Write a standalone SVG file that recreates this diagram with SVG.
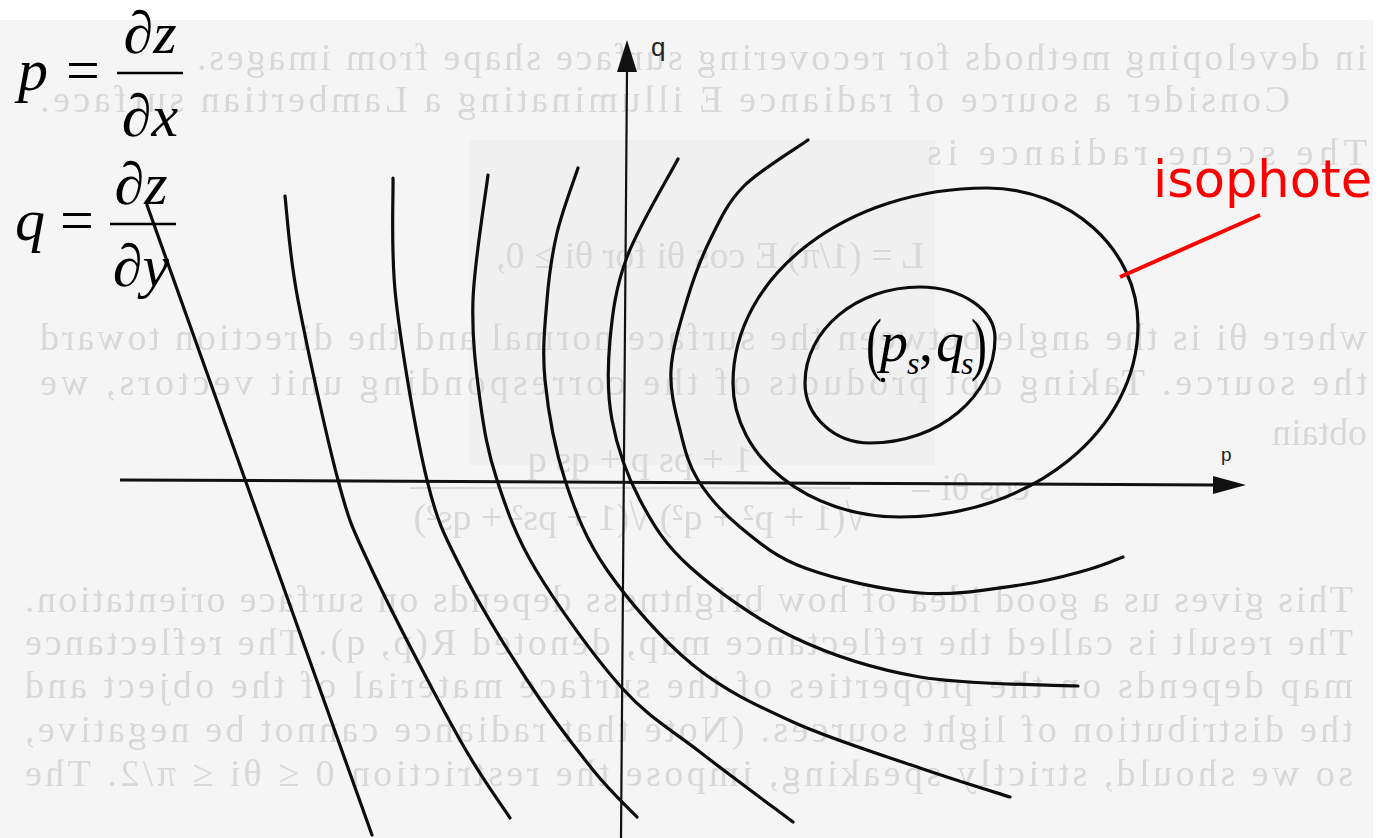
<svg xmlns="http://www.w3.org/2000/svg" width="1385" height="838" viewBox="0 0 1385 838">
<style>
.curve{fill:none;stroke:#0d0d0d;stroke-width:3.2;stroke-linecap:round;stroke-linejoin:round}
.axis{fill:none;stroke:#111}
.math{font-family:"Liberation Serif","Times New Roman",serif;fill:#000}
.it{font-style:italic}
.axlbl{font-family:"Liberation Sans",Arial,sans-serif;fill:#222}
.bleed{font-family:"Liberation Serif","Times New Roman",serif;font-size:38px;fill:#d8d8d8}
</style>
<defs>
<filter id="soft" x="-2%" y="-10%" width="104%" height="120%">
<feGaussianBlur stdDeviation="0.7"/>
</filter>
</defs>
<g id="background">
<rect x="0" y="0" width="1385" height="838" fill="#ffffff"/>
<rect x="0" y="20" width="1373" height="818" fill="#f5f5f5"/>
<rect x="470" y="140" width="465" height="325" fill="#ececec" opacity="0.6"/>
</g>
<g id="bleed-through" transform="matrix(-1 0 0 1 1410 0)" filter="url(#soft)">
<text class="bleed" x="43" y="70" textLength="1170" lengthAdjust="spacing">in developing methods for recovering surface shape from images.</text>
<text class="bleed" x="120" y="112" textLength="1250" lengthAdjust="spacing">Consider a source of radiance E illuminating a Lambertian surface.</text>
<text class="bleed" x="43" y="165" textLength="440" lengthAdjust="spacing">The scene radiance is</text>
<text class="bleed" x="700" y="268" text-anchor="middle">L = (1/π) E cos θi    for θi ≥ 0,</text>
<text class="bleed" x="43" y="350" textLength="1327" lengthAdjust="spacing">where θi is the angle between the surface normal and the direction toward</text>
<text class="bleed" x="43" y="395" textLength="1327" lengthAdjust="spacing">the source. Taking dot products of the corresponding unit vectors, we</text>
<text class="bleed" x="43" y="445">obtain</text>
<text class="bleed" x="770" y="472" text-anchor="middle">1 + ps p + qs q</text>
<text class="bleed" x="440" y="500" text-anchor="middle">cos θi =</text>
<line x1="560" y1="488" x2="1000" y2="488" stroke="#d8d8d8" stroke-width="2"/>
<text class="bleed" x="770" y="530" text-anchor="middle">√(1 + p² + q²) √(1 + ps² + qs²)</text>
<text class="bleed" x="57" y="612" textLength="1328" lengthAdjust="spacing">This gives us a good idea of how brightness depends on surface orientation.</text>
<text class="bleed" x="57" y="655" textLength="1328" lengthAdjust="spacing">The result is called the reflectance map, denoted R(p, q). The reflectance</text>
<text class="bleed" x="57" y="698" textLength="1328" lengthAdjust="spacing">map depends on the properties of the surface material of the object and</text>
<text class="bleed" x="57" y="742" textLength="1328" lengthAdjust="spacing">the distribution of light sources. (Note that radiance cannot be negative,</text>
<text class="bleed" x="57" y="786" textLength="1328" lengthAdjust="spacing">so we should, strictly speaking, impose the restriction 0 ≤ θi ≤ π/2. The</text>
</g>
<g id="axes">
<line class="axis" x1="627" y1="70" x2="621" y2="838" stroke-width="2.2"/>
<polygon points="627,40 617,72 637,72" fill="#111"/>
<line class="axis" x1="120" y1="480" x2="1216" y2="485" stroke-width="3"/>
<polygon points="1246,485 1213,476 1213,494" fill="#111"/>
<text class="axlbl" x="651" y="56" font-size="26">q</text>
<text class="axlbl" x="1221" y="461" font-size="19">p</text>
</g>
<g id="isophotes">
<path class="curve" d="M147,205 L372,835"/>
<path class="curve" d="M285,196 C287,213 289,253 298,300 C307,347 326,435 338,480 C350,525 352,527 372,570 C392,613 437,699 460,740 C483,781 502,805 510,818"/>
<path class="curve" d="M393,178 C393.5,198 390.3,250 396,300 C401.7,350 416,435 427,480 C438,525 445.3,536.7 462,570 C478.7,603.3 505.2,646.7 527,680 C548.8,713.3 574.7,747.2 593,770 C611.3,792.8 629.7,809.2 637,817"/>
<path class="curve" d="M488,175 C485.5,195.8 474.3,262.5 473,300 C471.7,337.5 476,370 480,400 C484,430 487.7,451.7 497,480 C506.3,508.3 515.2,535.3 536,570 C556.8,604.7 594.7,657.7 622,688 C649.3,718.3 671.5,729.7 700,752 C728.5,774.3 777.5,810.3 793,822"/>
<path class="curve" d="M578,168 C574.5,178.8 562.2,211 557,233 C551.8,255 549,275.5 547,300 C545,324.5 542,350 545,380 C548,410 554.7,448.3 565,480 C575.3,511.7 585.7,539.2 607,570 C628.3,600.8 662,639.7 693,665 C724,690.3 755.2,704.8 793,722 C830.8,739.2 883.8,755.5 920,768 C956.2,780.5 995,792.2 1010,797"/>
<path class="curve" d="M678,159 C669.5,175.3 638.3,226.8 627,257 C615.7,287.2 612.5,312.8 610,340 C607.5,367.2 607,393.3 612,420 C617,446.7 627,475.5 640,500 C653,524.5 664.5,544.2 690,567 C715.5,589.8 754.7,618.7 793,637 C831.3,655.3 872.5,668.8 920,677 C967.5,685.2 1051.7,684.5 1078,686"/>
<path class="curve" d="M808,140 C797.2,147.8 759.3,170.3 743,187 C726.7,203.7 719.3,221.2 710,240 C700.7,258.8 693.5,278.3 687,300 C680.5,321.7 672.2,348.3 671,370 C669.8,391.7 675.5,411.7 680,430 C684.5,448.3 688,463.8 698,480 C708,496.2 722.2,512.3 740,527 C757.8,541.7 775,557 805,568 C835,579 884.2,590.2 920,593 C955.8,595.8 992.2,588.8 1020,585 C1047.8,581.2 1069.8,574.7 1087,570 C1104.2,565.3 1117,559.2 1123,557"/>
<path class="curve" d="M733,383 C733,275 847,188 987,188 C1070,188 1138,249 1138,325 C1138,431 1031,517 900,517 C808,517 733,457 733,383 Z"/>
<path class="curve" d="M805,383 C805,330 856.5,287 920,287 C961.4,287 995,309.8 995,338 C995,396 939,443 870,443 C834,443 805,416 805,383 Z"/>
</g>
<g id="source-label">
<circle cx="883" cy="380" r="2.2" fill="#000"/>
<text class="math" transform="translate(866,367) scale(1,1.45)" font-size="48">(</text>
<text class="math it" x="880" y="361" font-size="56">p</text>
<text class="math it" x="907" y="374" font-size="32">s</text>
<text class="math" x="919" y="361" font-size="56">,</text>
<text class="math it" x="936" y="361" font-size="56">q</text>
<text class="math it" x="961" y="374" font-size="32">s</text>
<text class="math" transform="translate(971,367) scale(1,1.45)" font-size="48">)</text>
</g>
<g id="equation-p">
<text class="math it" x="18" y="90" font-size="60">p</text>
<text class="math" x="66" y="90" font-size="60">=</text>
<text class="math it" x="150" y="53" font-size="60" text-anchor="middle">∂z</text>
<line x1="117" y1="73" x2="183" y2="73" stroke="#000" stroke-width="2.5"/>
<text class="math it" x="150" y="136" font-size="60" text-anchor="middle">∂x</text>
</g>
<g id="equation-q">
<text class="math it" x="15" y="240" font-size="60">q</text>
<text class="math" x="60" y="240" font-size="60">=</text>
<text class="math it" x="141" y="204" font-size="60" text-anchor="middle">∂z</text>
<line x1="110" y1="224" x2="176" y2="224" stroke="#000" stroke-width="2.5"/>
<text class="math it" x="141" y="286" font-size="60" text-anchor="middle">∂y</text>
</g>
<g id="isophote-callout">
<line x1="1260" y1="215" x2="1120" y2="277" stroke="#ff0000" stroke-width="4"/>
<text x="1153" y="197" font-family="'DejaVu Sans',Verdana,sans-serif" font-size="51" fill="#ff0000">isophote</text>
</g>
</svg>
